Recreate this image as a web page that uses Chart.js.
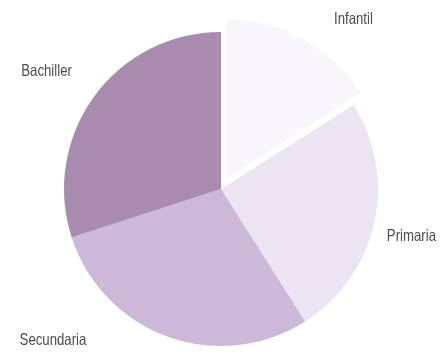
<!DOCTYPE html>
<html>
<head>
<meta charset="utf-8">
<script src="https://cdn.jsdelivr.net/npm/chart.js@4/dist/chart.umd.min.js"></script>
<style>
  html, body { margin: 0; padding: 0; background: #fff; overflow: hidden; }
  #wrap { width: 445px; height: 380px; }
</style>
</head>
<body>
<div id="wrap"><canvas id="myChart"></canvas></div>
<script>
const labels = ["Infantil", "Primaria", "Secundaria", "Bachiller"];
const values = [16, 25, 29, 30];
const colors = ["#f8f6fb", "#ebe4f2", "#cbb9d7", "#a98bb0"];

// where each label sits: angle clockwise from 12 o'clock, distance as a share of the radius
const labelSpots = [[38, 1.37], [104, 1.25], [228, 1.44], [304, 1.34]];

const outsideLabels = {
	id: "outsideLabels",
	afterDraw(chart) {
		const ctx = chart.ctx;
		const arcs = chart.getDatasetMeta(0).data;
		ctx.save();
		ctx.font = "16.5px 'Liberation Sans', Arial, sans-serif";
		ctx.fillStyle = "#4d4d4d";
		ctx.textAlign = "center";
		ctx.textBaseline = "middle";
		arcs.forEach((arc, i) => {
			const [deg, f] = labelSpots[i];
			const a = (deg - 90) * Math.PI / 180;
			const r = arc.outerRadius * f;
			const x = arc.x + Math.cos(a) * r;
			const y = arc.y + Math.sin(a) * r;
			// narrow face, like the printed original
			ctx.save();
			ctx.translate(x, y);
			ctx.scale(0.8, 1);
			ctx.fillText(chart.data.labels[i], 0, 0);
			ctx.restore();
		});
		ctx.restore();
	}
};

const ctx = document.getElementById("myChart").getContext("2d");
new Chart(ctx, {
	type: "pie",
	data: {
		labels: labels,
		datasets: [{
			data: values,
			backgroundColor: colors,
			borderWidth: 0,
			offset: [48, 0, 0, 0]
		}]
	},
	options: {
		responsive: true,
		maintainAspectRatio: false,
		animation: false,
		layout: { padding: { top: 8, bottom: 10, left: 40, right: 43 } },
		plugins: {
			legend: { display: false },
			tooltip: { enabled: false }
		}
	},
	plugins: [outsideLabels]
});
</script>
</body>
</html>
